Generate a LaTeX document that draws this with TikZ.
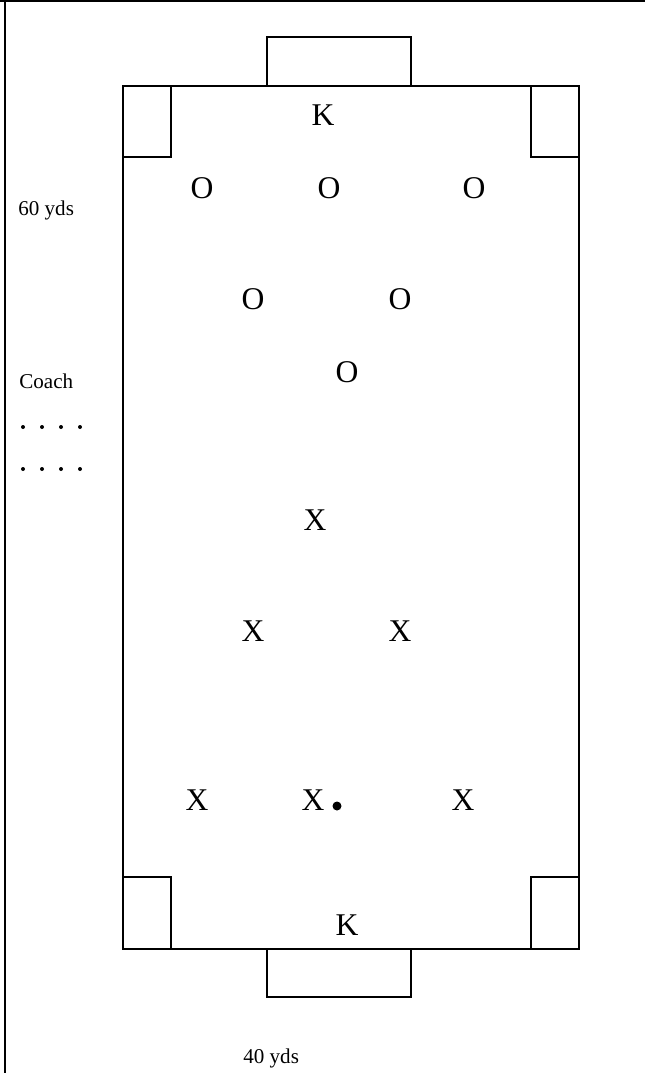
\documentclass[tikz,border=0pt]{standalone}
\usepackage{fontspec}
\setmainfont{Liberation Serif}
\usepackage{tikz}
\tikzset{
  fieldline/.style={draw=black, line width=1.1pt},
  framelinestyle/.style={draw=black, line width=1.3pt},
  player/.style={font=\fontsize{18}{20}\selectfont, inner sep=0pt},
  labeltext/.style={font=\fontsize{12}{14}\selectfont, inner sep=0pt, anchor=base west},
  coachdot/.style={fill=black, draw=none},
}

\begin{document}
\begin{tikzpicture}[x=0.02cm, y=-0.02cm]
  \useasboundingbox (0,0) rectangle (645,1073);

  % outer frame
  \draw[framelinestyle] (0,1) -- (645,1);
  \draw[framelinestyle] (5,0) -- (5,1073);

  % field, corner boxes and goals
  \draw[fieldline] (123,86) rectangle (579,949);
  \draw[fieldline] (123,86) rectangle (171,157);
  \draw[fieldline] (531,86) rectangle (579,157);
  \draw[fieldline] (123,877) rectangle (171,949);
  \draw[fieldline] (531,877) rectangle (579,949);
  \draw[fieldline] (267,86) -- (267,37) -- (411,37) -- (411,86);
  \draw[fieldline] (267,949) -- (267,997) -- (411,997) -- (411,949);

  % keepers
  \node[player] (ktop) at (323,115) {K};
  \node[player] (kbot) at (347,925) {K};

  % team O
  \node[player] (o1) at (202,188) {O};
  \node[player] (o2) at (329,188) {O};
  \node[player] (o3) at (474,188) {O};
  \node[player] (o4) at (253,299) {O};
  \node[player] (o5) at (400,299) {O};
  \node[player] (o6) at (347,372) {O};

  % team X
  \node[player] (x1) at (315,520) {X};
  \node[player] (x2) at (253,631) {X};
  \node[player] (x3) at (400,631) {X};
  \node[player] (x4) at (197,800) {X};
  \node[player] (x5) at (313,800) {X};
  \node[player] (x6) at (463,800) {X};

  % ball
  \fill (337,806) circle (4.5);

  % labels
  \node[labeltext] (width60) at (18,215) {60 yds};
  \node[labeltext] (coach) at (19,388) {Coach};
  \node[labeltext] (width40) at (243,1063) {40 yds};

  % coach dots
  \foreach \yy in {427,469}
    \foreach \xx in {23,42,61,80}
      \fill[coachdot] (\xx,\yy) circle (2);
\end{tikzpicture}
\end{document}
